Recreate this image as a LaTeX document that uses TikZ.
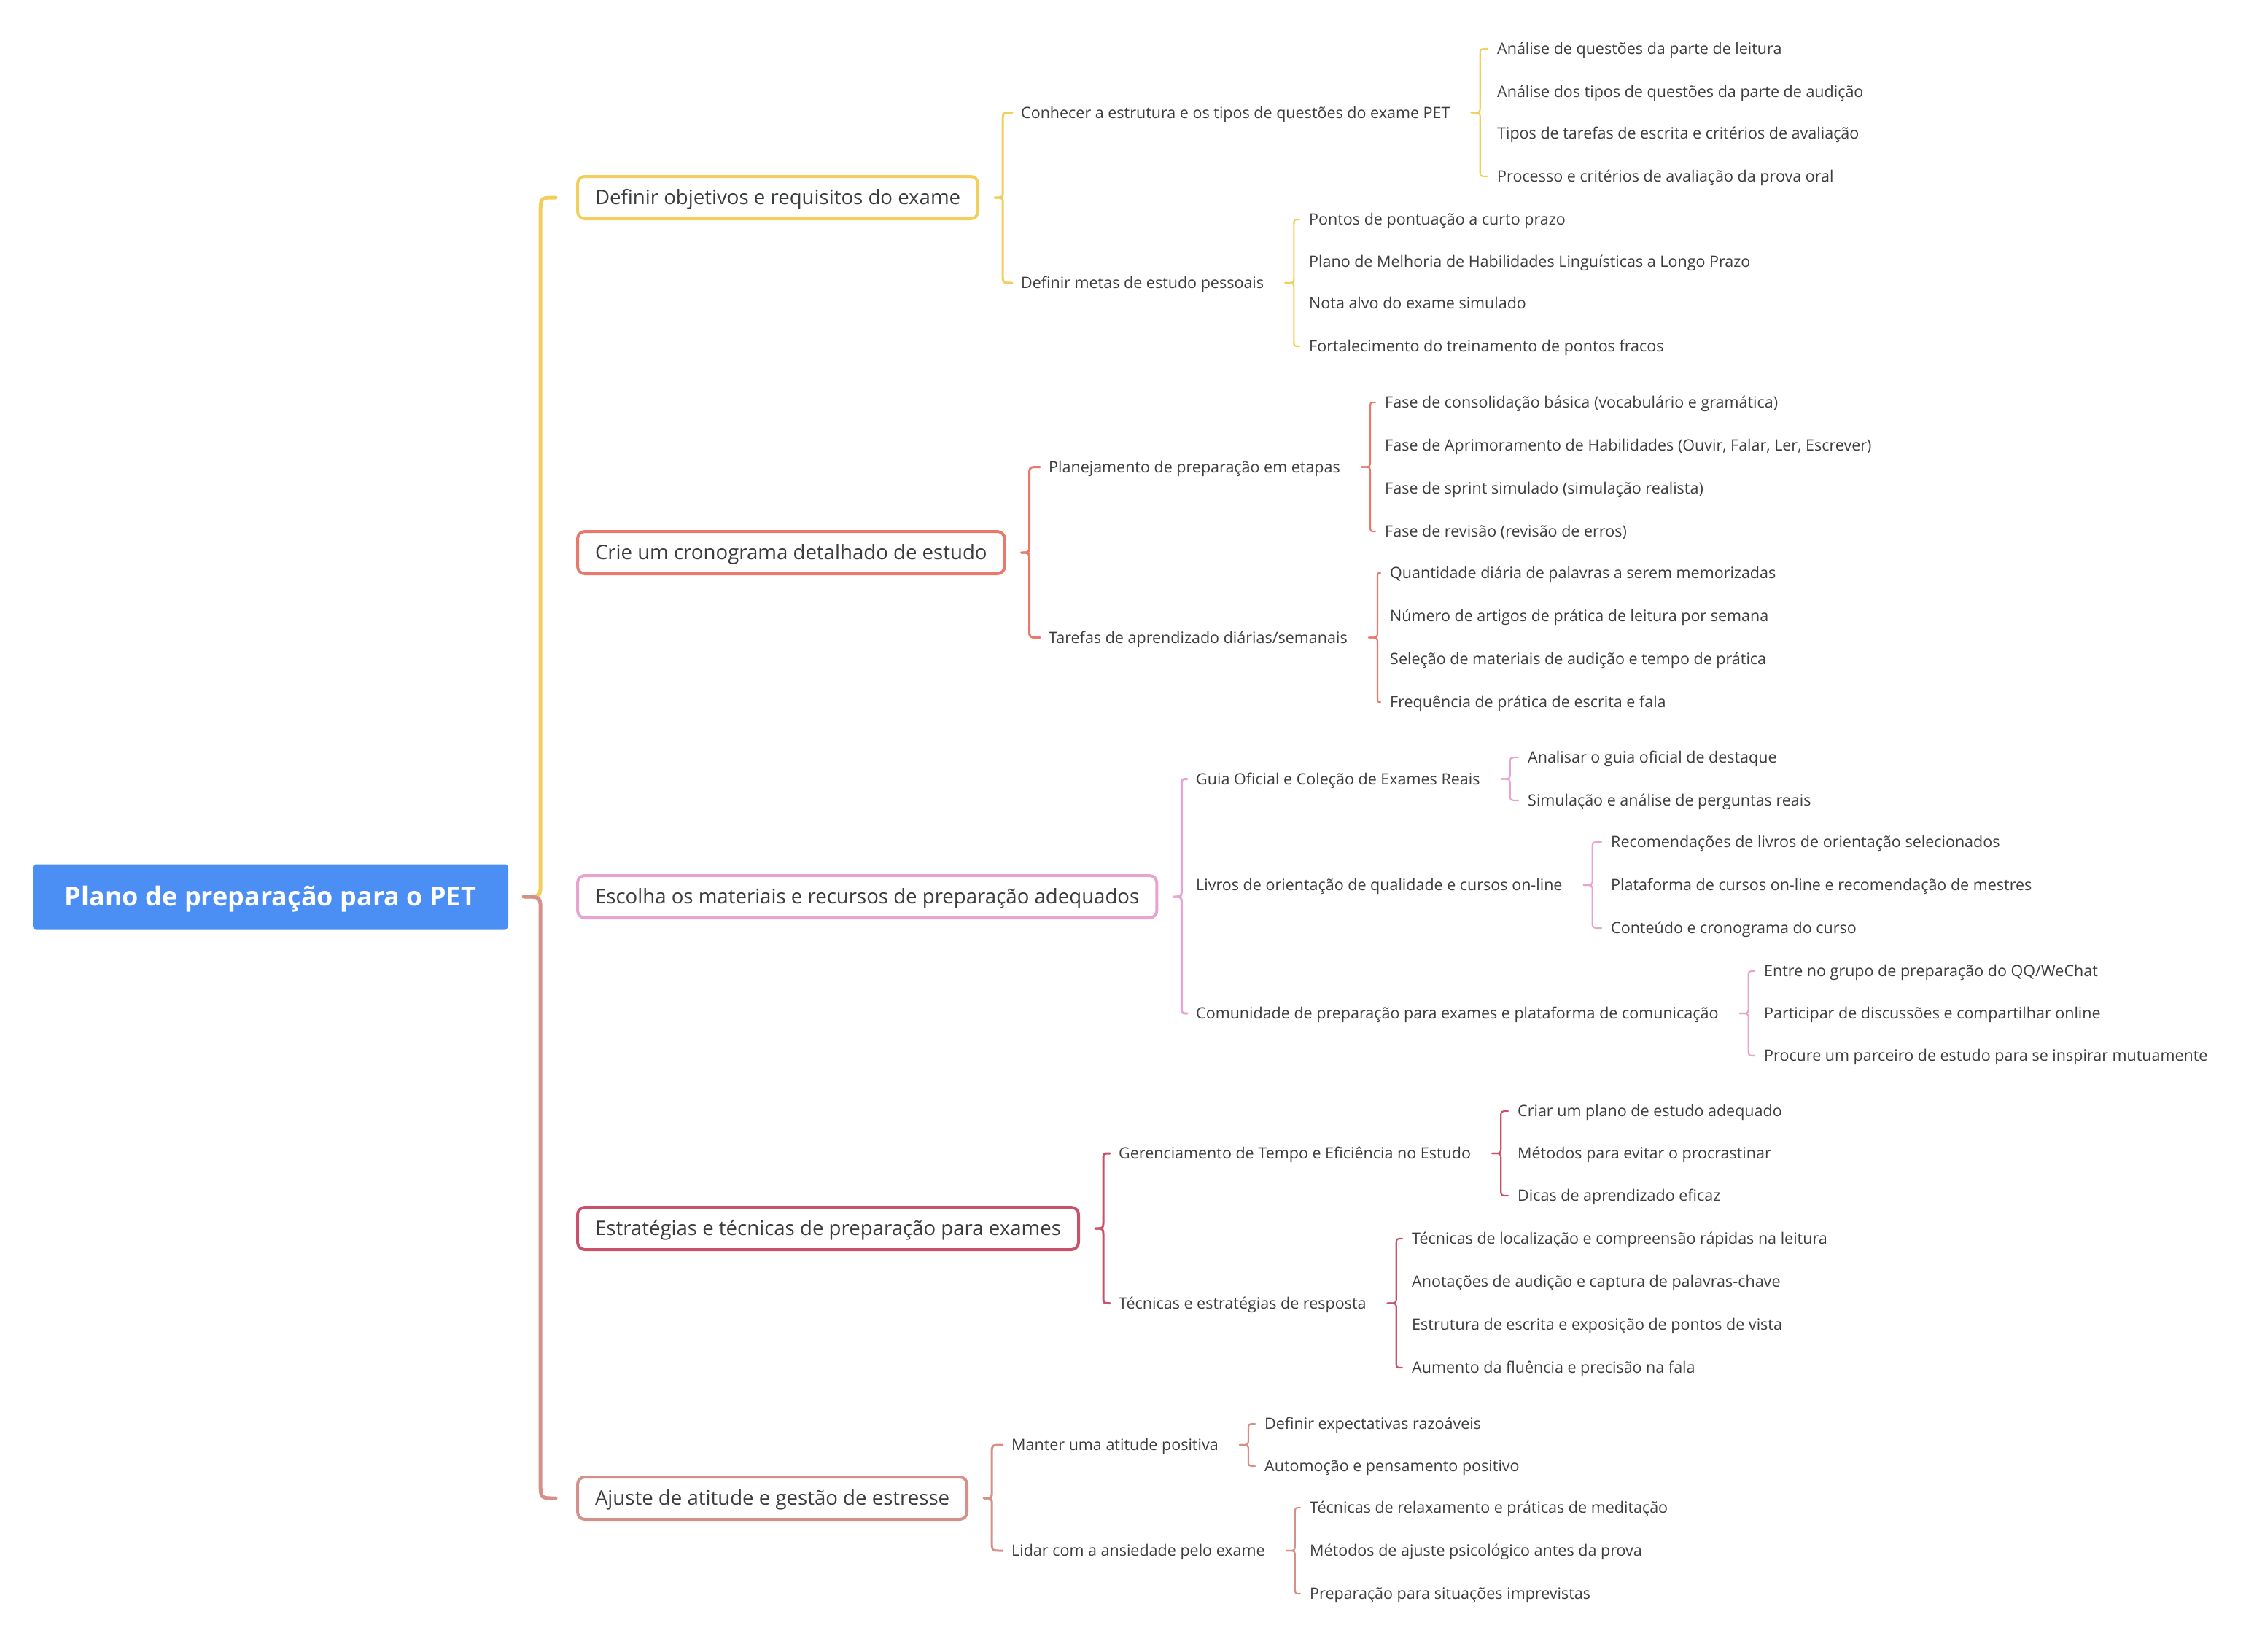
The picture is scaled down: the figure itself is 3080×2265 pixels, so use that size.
\documentclass[tikz,border=0pt]{standalone}
\usepackage{fontspec}
\setmainfont{Open Sans}
\usepackage{xcolor}
\usetikzlibrary{calc}

\definecolor{inkc}{HTML}{3D3D3D}
\definecolor{rootc}{HTML}{4B8FF5}
\definecolor{goalc}{HTML}{F2CF5C}
\definecolor{schedc}{HTML}{E8796B}
\definecolor{matc}{HTML}{E9A3D1}
\definecolor{stratc}{HTML}{C9526B}
\definecolor{moodc}{HTML}{D4918A}

% curly connector: style, parent, child, gap to tip, tip to stem, radius, gap before child
\newcommand{\curlylink}[7]{%
  \draw[#1, line cap=round] let \p1=(#2.east), \p2=(#3.west), \n1={sign(\y2-\y1)} in
    ({\x1+#4},\y1) .. controls ({\x1+#4+#5},\y1) .. ({\x1+#4+#5},{\y1+(\n1)*#6})
    -- ({\x1+#4+#5},{\y2-(\n1)*#6}) .. controls ({\x1+#4+#5},\y2) .. ({\x2-#7},\y2);
}

\begin{document}
\begin{tikzpicture}[x=1pt,y=-1pt,
  every node/.style={text=inkc},
  rootbox/.style={fill=rootc, text=white, rounded corners=4pt, minimum width=652pt, minimum height=89pt,
    font=\fontsize{36}{40}\selectfont\bfseries, text height=25.7pt, text depth=0pt},
  topicbox/.style={draw=#1, line width=4pt, fill=white, rounded corners=10pt, anchor=west, inner xsep=24pt,
    minimum height=58pt, font=\fontsize{27.6}{32}\selectfont, text height=19.7pt, text depth=0pt},
  subitem/.style={anchor=west, inner sep=0pt, font=\fontsize{21.5}{25}\selectfont, text height=15.4pt, text depth=0pt},
  rootlink/.style={draw=#1, line width=5pt},
  toplink/.style={draw=#1, line width=3pt},
  leaflink/.style={draw=#1, line width=2.2pt},
]
\useasboundingbox (0,-2) rectangle (3080,2263);

% root and main topics
\node[rootbox] (plan) at (371,1228) {Plano de preparação para o PET};
\node[topicbox=goalc] (goal) at (790,269) {Definir objetivos e requisitos do exame};
\node[topicbox=schedc] (sched) at (790,756) {Crie um cronograma detalhado de estudo};
\node[topicbox=matc] (mat) at (790,1228) {Escolha os materiais e recursos de preparação adequados};
\node[topicbox=stratc] (strat) at (790,1683) {Estratégias e técnicas de preparação para exames};
\node[topicbox=moodc] (mood) at (790,2053) {Ajuste de atitude e gestão de estresse};

\curlylink{rootlink=goalc}{plan}{goal}{21pt}{23pt}{20pt}{28pt}
\curlylink{rootlink=moodc}{plan}{mood}{21pt}{23pt}{20pt}{28pt}

% second level
\node[subitem] (g1a) at (1400,152.5) {Conhecer a estrutura e os tipos de questões do exame PET};
\node[subitem] (g1b) at (1400,386) {Definir metas de estudo pessoais};
\node[subitem] (g2a) at (1438,638.5) {Planejamento de preparação em etapas};
\node[subitem] (g2b) at (1438,872.5) {Tarefas de aprendizado diárias/semanais};
\node[subitem] (g3a) at (1640,1066.5) {Guia Oficial e Coleção de Exames Reais};
\node[subitem] (g3b) at (1640,1212) {Livros de orientação de qualidade e cursos on-line};
\node[subitem] (g3c) at (1640,1388) {Comunidade de preparação para exames e plataforma de comunicação};
\node[subitem] (g4a) at (1534,1580) {Gerenciamento de Tempo e Eficiência no Estudo};
\node[subitem] (g4b) at (1534,1785.5) {Técnicas e estratégias de resposta};
\node[subitem] (g5a) at (1387,1980) {Manter uma atitude positiva};
\node[subitem] (g5b) at (1387,2125) {Lidar com a ansiedade pelo exame};

\curlylink{toplink=goalc}{goal}{g1a}{21pt}{11pt}{10pt}{12pt}
\curlylink{toplink=goalc}{goal}{g1b}{21pt}{11pt}{10pt}{12pt}
\curlylink{toplink=schedc}{sched}{g2a}{21pt}{11pt}{10pt}{12pt}
\curlylink{toplink=schedc}{sched}{g2b}{21pt}{11pt}{10pt}{12pt}
\curlylink{toplink=matc}{mat}{g3a}{21pt}{11pt}{10pt}{12pt}
\curlylink{toplink=matc}{mat}{g3c}{21pt}{11pt}{10pt}{12pt}
\curlylink{toplink=stratc}{strat}{g4a}{21pt}{11pt}{10pt}{12pt}
\curlylink{toplink=stratc}{strat}{g4b}{21pt}{11pt}{10pt}{12pt}
\curlylink{toplink=moodc}{mood}{g5a}{21pt}{11pt}{10pt}{12pt}
\curlylink{toplink=moodc}{mood}{g5b}{21pt}{11pt}{10pt}{12pt}

% leaves
\node[subitem] (g1a1) at (2053,65) {Análise de questões da parte de leitura};
\node[subitem] (g1a2) at (2053,124) {Análise dos tipos de questões da parte de audição};
\node[subitem] (g1a3) at (2053,181) {Tipos de tarefas de escrita e critérios de avaliação};
\node[subitem] (g1a4) at (2053,240) {Processo e critérios de avaliação da prova oral};
\node[subitem] (g1b1) at (1795,299) {Pontos de pontuação a curto prazo};
\node[subitem] (g1b2) at (1795,357) {Plano de Melhoria de Habilidades Linguísticas a Longo Prazo};
\node[subitem] (g1b3) at (1795,414) {Nota alvo do exame simulado};
\node[subitem] (g1b4) at (1795,473) {Fortalecimento do treinamento de pontos fracos};

\node[subitem] (g2a1) at (1899,550) {Fase de consolidação básica (vocabulário e gramática)};
\node[subitem] (g2a2) at (1899,609) {Fase de Aprimoramento de Habilidades (Ouvir, Falar, Ler, Escrever)};
\node[subitem] (g2a3) at (1899,668) {Fase de sprint simulado (simulação realista)};
\node[subitem] (g2a4) at (1899,727) {Fase de revisão (revisão de erros)};
\node[subitem] (g2b1) at (1906,784) {Quantidade diária de palavras a serem memorizadas};
\node[subitem] (g2b2) at (1906,843) {Número de artigos de prática de leitura por semana};
\node[subitem] (g2b3) at (1906,902) {Seleção de materiais de audição e tempo de prática};
\node[subitem] (g2b4) at (1906,961) {Frequência de prática de escrita e fala};

\node[subitem] (g3a1) at (2095,1037) {Analisar o guia oficial de destaque};
\node[subitem] (g3a2) at (2095,1096) {Simulação e análise de perguntas reais};
\node[subitem] (g3b1) at (2209,1153) {Recomendações de livros de orientação selecionados};
\node[subitem] (g3b2) at (2209,1212) {Plataforma de cursos on-line e recomendação de mestres};
\node[subitem] (g3b3) at (2209,1271) {Conteúdo e cronograma do curso};
\node[subitem] (g3c1) at (2419,1330) {Entre no grupo de preparação do QQ/WeChat};
\node[subitem] (g3c2) at (2419,1388) {Participar de discussões e compartilhar online};
\node[subitem] (g3c3) at (2419,1446) {Procure um parceiro de estudo para se inspirar mutuamente};

\node[subitem] (g4a1) at (2081,1522) {Criar um plano de estudo adequado};
\node[subitem] (g4a2) at (2081,1580) {Métodos para evitar o procrastinar};
\node[subitem] (g4a3) at (2081,1638) {Dicas de aprendizado eficaz};
\node[subitem] (g4b1) at (1936,1697) {Técnicas de localização e compreensão rápidas na leitura};
\node[subitem] (g4b2) at (1936,1756) {Anotações de audição e captura de palavras-chave};
\node[subitem] (g4b3) at (1936,1815) {Estrutura de escrita e exposição de pontos de vista};
\node[subitem] (g4b4) at (1936,1874) {Aumento da fluência e precisão na fala};

\node[subitem] (g5a1) at (1734,1951) {Definir expectativas razoáveis};
\node[subitem] (g5a2) at (1734,2009) {Automoção e pensamento positivo};
\node[subitem] (g5b1) at (1796,2066) {Técnicas de relaxamento e práticas de meditação};
\node[subitem] (g5b2) at (1796,2125) {Métodos de ajuste psicológico antes da prova};
\node[subitem] (g5b3) at (1796,2184) {Preparação para situações imprevistas};

\curlylink{leaflink=goalc}{g1a}{g1a1}{29pt}{12pt}{8pt}{13pt}
\curlylink{leaflink=goalc}{g1a}{g1a4}{29pt}{12pt}{8pt}{13pt}
\curlylink{leaflink=goalc}{g1b}{g1b1}{29pt}{12pt}{8pt}{13pt}
\curlylink{leaflink=goalc}{g1b}{g1b4}{29pt}{12pt}{8pt}{13pt}
\curlylink{leaflink=schedc}{g2a}{g2a1}{29pt}{12pt}{8pt}{13pt}
\curlylink{leaflink=schedc}{g2a}{g2a4}{29pt}{12pt}{8pt}{13pt}
\curlylink{leaflink=schedc}{g2b}{g2b1}{29pt}{12pt}{8pt}{13pt}
\curlylink{leaflink=schedc}{g2b}{g2b4}{29pt}{12pt}{8pt}{13pt}
\curlylink{leaflink=matc}{g3a}{g3a1}{29pt}{12pt}{8pt}{13pt}
\curlylink{leaflink=matc}{g3a}{g3a2}{29pt}{12pt}{8pt}{13pt}
\curlylink{leaflink=matc}{g3b}{g3b1}{29pt}{12pt}{8pt}{13pt}
\curlylink{leaflink=matc}{g3b}{g3b3}{29pt}{12pt}{8pt}{13pt}
\curlylink{leaflink=matc}{g3c}{g3c1}{29pt}{12pt}{8pt}{13pt}
\curlylink{leaflink=matc}{g3c}{g3c3}{29pt}{12pt}{8pt}{13pt}
\curlylink{leaflink=stratc}{g4a}{g4a1}{29pt}{12pt}{8pt}{13pt}
\curlylink{leaflink=stratc}{g4a}{g4a3}{29pt}{12pt}{8pt}{13pt}
\curlylink{leaflink=stratc}{g4b}{g4b1}{29pt}{12pt}{8pt}{13pt}
\curlylink{leaflink=stratc}{g4b}{g4b4}{29pt}{12pt}{8pt}{13pt}
\curlylink{leaflink=moodc}{g5a}{g5a1}{29pt}{12pt}{8pt}{13pt}
\curlylink{leaflink=moodc}{g5a}{g5a2}{29pt}{12pt}{8pt}{13pt}
\curlylink{leaflink=moodc}{g5b}{g5b1}{29pt}{12pt}{8pt}{13pt}
\curlylink{leaflink=moodc}{g5b}{g5b3}{29pt}{12pt}{8pt}{13pt}
\end{tikzpicture}
\end{document}
